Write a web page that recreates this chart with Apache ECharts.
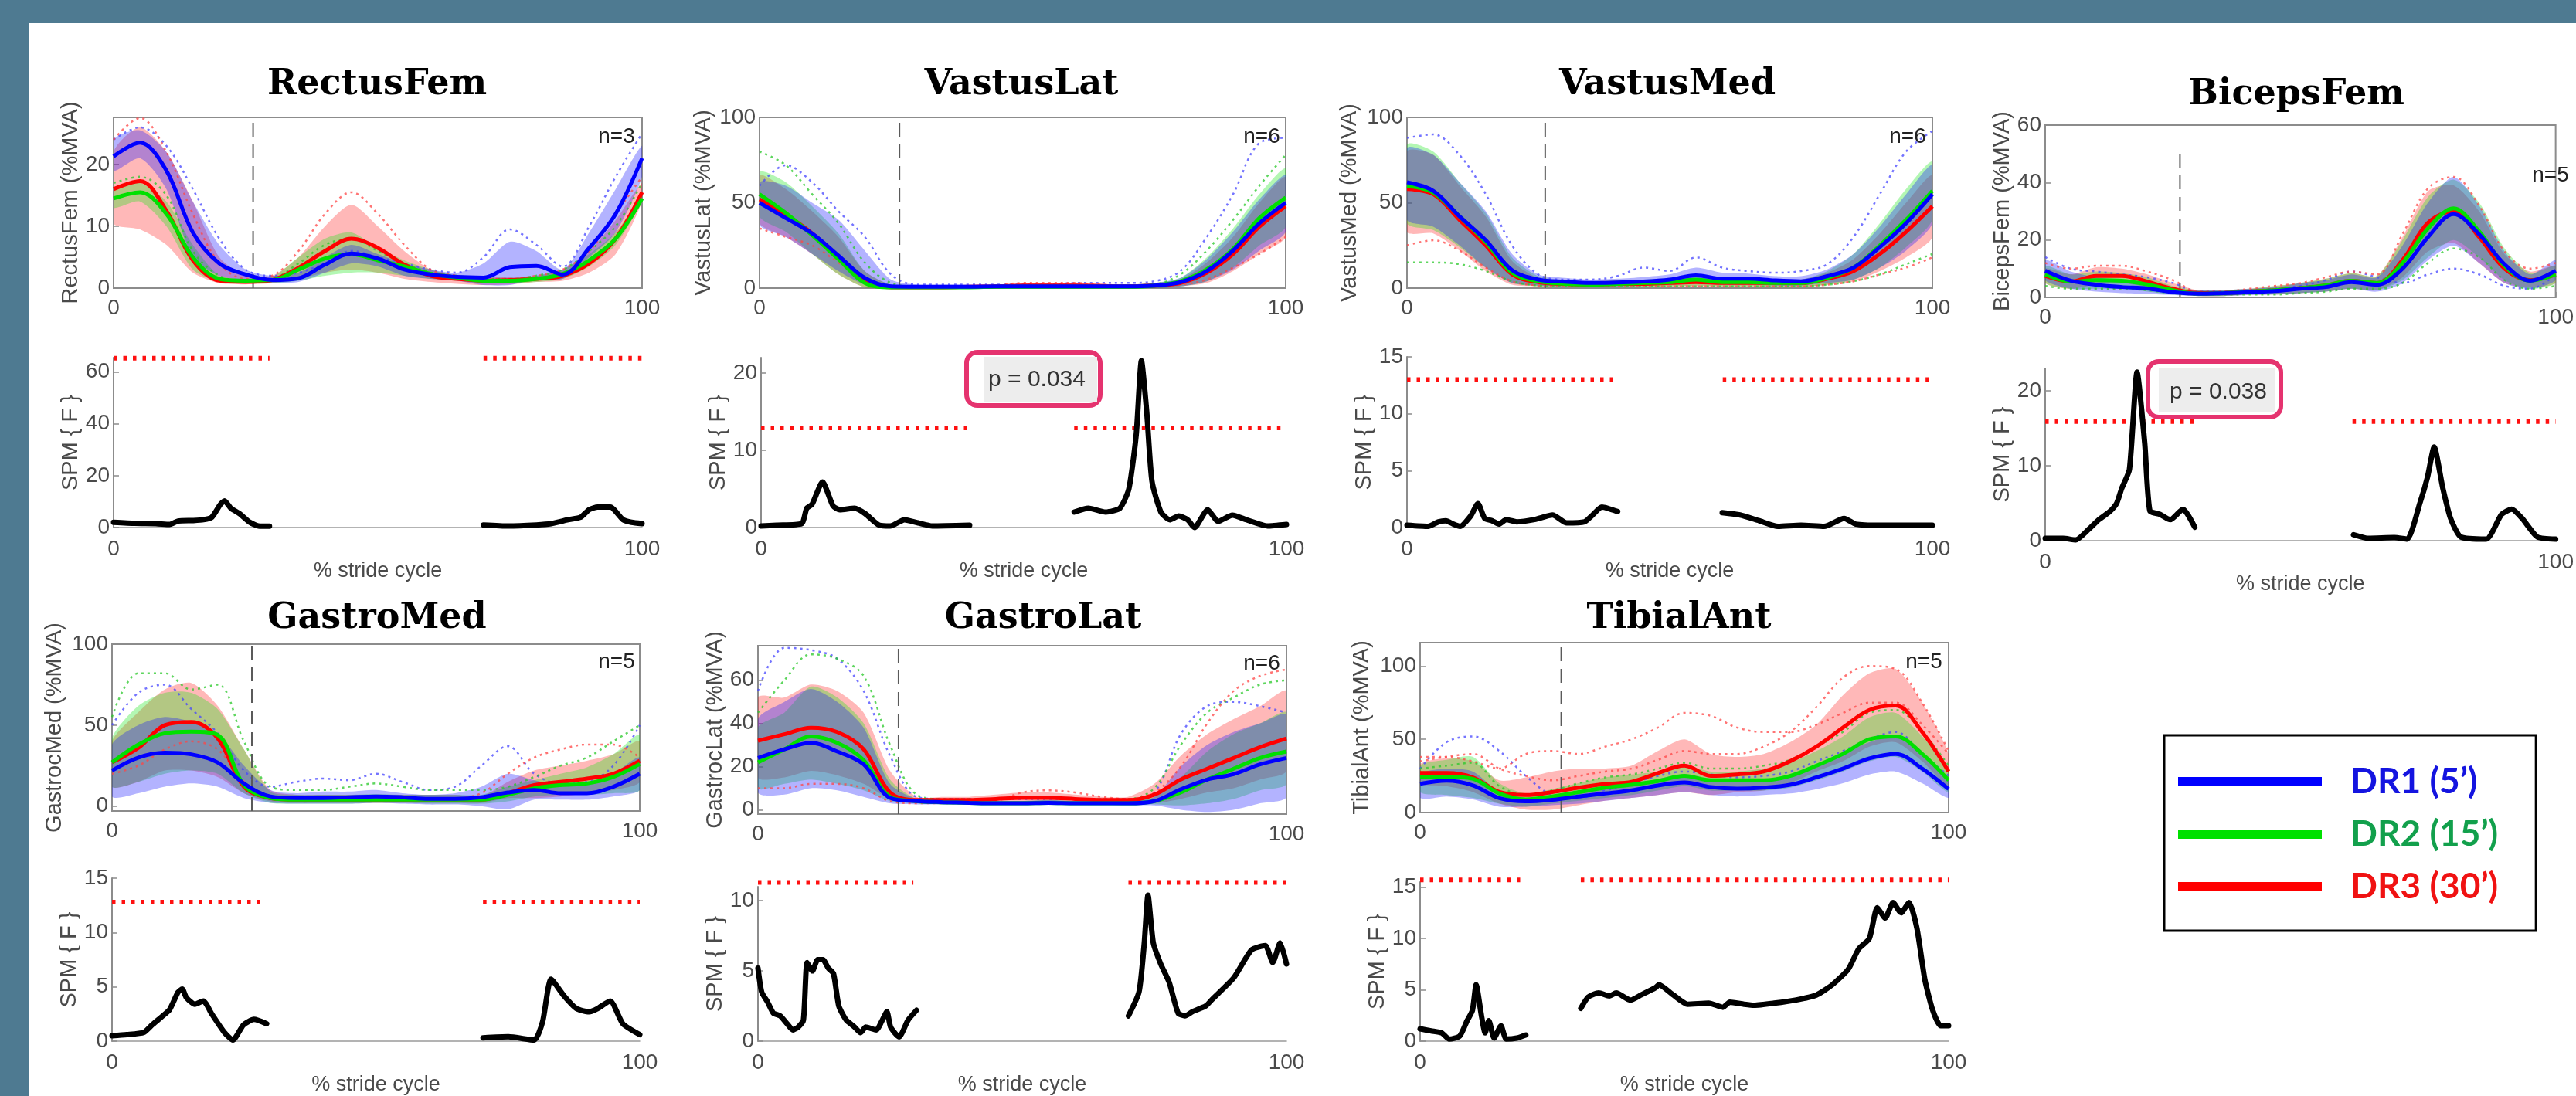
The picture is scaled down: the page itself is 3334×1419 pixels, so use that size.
<!DOCTYPE html>
<html><head><meta charset="utf-8">
<script src="https://cdn.jsdelivr.net/npm/echarts@6/dist/echarts.min.js"></script>
<style>html,body{margin:0;padding:0;background:#fff;overflow:hidden}#c{width:3334px;height:1419px}</style>
</head><body><div id="c"></div>
<script>
// ---------------- DATA ----------------
const X = [0,5,10,15,20,25,30,35,40,45,50,55,60,65,70,75,80,85,90,95,100];
const MUSCLES = ['RectusFem','VastusLat','VastusMed','BicepsFem','GastroMed','GastroLat','TibialAnt'];
const Y_LABELS = ['RectusFem (%MVA)','VastusLat (%MVA)','VastusMed (%MVA)','BicepsFem (%MVA)','GastrocMed (%MVA)','GastrocLat (%MVA)','TibialAnt (%MVA)'];
const N_LABELS = ['n=3','n=6','n=6','n=5','n=5','n=6','n=5'];
const EMG_RANGE = [[0,27.6],[0,100],[0,100],[0,60],[-3,100],[-2,76],[0,116]];
const EMG_TICKS = [[0,10,20],[0,50,100],[0,50,100],[0,20,40,60],[0,50,100],[0,20,40,60],[0,50,100]];
const TOE_OFF = [26.4,26.6,26.3,26.4,26.5,26.6,26.7];
const TOE_TOP = [27.6,100,100,50,100,76,116];
const SPM_MAX = [65.5,22,15,23,15,11,15.5];
const SPM_TICKS = [[0,20,40,60],[0,10,20],[0,5,10,15],[0,10,20],[0,5,10,15],[0,5,10],[0,5,10,15]];
const THRESH = [65.3,12.9,13.0,15.9,12.8,11.3,15.7];
const THRESH_GAP = [[29.5,70],[39.7,59.6],[40.1,60.1],[29.3,60.2],[29.3,70.3],[29.4,70.1],[20,30.4]];
const LEGEND_NAMES = ['DR1 (5’)','DR2 (15’)','DR3 (30’)'];
const P_TEXTS = ['p = 0.034','p = 0.038'];

// RectusFem: means, SD bands, individual traces
const RF_blue  = [21.3,23.5,19,9,4,2.2,1.3,1.6,3.8,5.6,4.8,3,2.2,1.8,1.7,3.4,3.6,2.2,6.5,12,21];
const RF_green = [14.5,15.5,12,5,1.5,1.2,1.3,3,4.8,5.5,4.5,3.5,2.3,1.7,1.2,1.2,1.5,2.3,4.5,8,14.5];
const RF_red   = [16,17.3,12.5,4.5,1.2,1,1.3,3.3,6,8,6.5,3.8,2,1.5,1.2,1.3,1.5,2,4,8,15.5];
const RF_blue_lo  = [19,21,16,5,2,1.3,0.8,1,2.5,4,3.5,2,1.5,1.2,0.5,0.5,1.5,1.5,5,9,18];
const RF_blue_hi  = [24,25.5,22,14,7,3,2,2.5,5,7,5.5,4,3,2.5,4,7.5,6,3,9,16,23];
const RF_green_lo = [13,14,10,3,1,0.8,0.8,1.2,2,2.5,2.5,2,1.5,1.2,0.8,0.8,1,1.5,3.5,7,14];
const RF_green_hi = [16,17,14,7,2,1.5,1.8,5,8,9,6.5,4.5,3,2,1.5,1.5,2,3,5.5,9,15];
const RF_red_lo   = [10.5,9.5,7,2.5,0.8,0.6,0.8,1.5,2.5,3,2.5,1.5,1,0.7,0.5,0.6,1,1.2,2.5,5.5,14];
const RF_red_hi   = [22,26,22,14,5,2,2,5,10,13.5,10,6,3,2,1.8,1.8,2,3,6,11,17];
const RF_dot_blue = [24,26,23,16,8,3,2,2.5,4,6,5,4,3,2.5,5,9.5,7,3.5,10,18,25];
const RF_dot_green= [17,18,15,6,2,1.2,1.5,4,7,8,6,4,2.5,2,1.5,1.5,2,3,6,10,17];
const RF_dot_red  = [24,27.5,22,12,4,1.5,2,6,12,15.5,12,7,3,2,1.5,1.5,2,3,6,12,18];
// VastusLat
const VL_blue  = [50,41,32,19,6,1,0.8,0.8,0.8,1,1,1,1,1,1,1.5,3.5,10,22,38,50];
const VL_green = [55,44,31,17,3,0.5,0.5,0.5,0.5,0.8,0.8,0.8,0.8,0.8,0.8,1.5,4,11,23,41,53];
const VL_red   = [52,43,32,18,4,0.5,0.5,0.5,0.8,1,1.5,1.5,1.5,1.2,1,1.5,3,9,20,36,48];
const VL_blue_lo  = [37,30,20,10,2,0,0,0,0,0,0,0,0,0,0,0,1,4,11,22,33];
const VL_blue_hi  = [62,60,50,40,22,5,2,2,2,2,2.5,2.5,2.5,2,2,3,6,17,33,52,66];
const VL_green_lo = [42,33,20,8,0.5,0,0,0,0,0,0,0,0,0,0,0,1,4,12,25,36];
const VL_green_hi = [68,62,48,32,10,2,1.5,1.5,1.5,1.5,2,2,2,2,2,3,6,18,35,55,70];
const VL_red_lo   = [38,30,20,8,0.5,0,0,0,0,0,0,0,0,0,0,0,1,3,10,20,30];
const VL_red_hi   = [66,58,45,30,10,2,1.5,1.5,1.5,2,2.5,3,3,2.5,2,3,5,15,30,50,65];
const VL_dot_blue = [60,72,62,45,30,8,2,2,2,2,2,2,3,3,3,4,10,30,55,85,88];
const VL_dot_green= [80,72,55,38,15,3,1,1,1,1,1,1,1,1,1,2,8,22,40,60,78];
const VL_dot_red  = [35,30,25,15,5,1,1,1,1,1.5,3,3,3,2,1.5,1.5,2,5,12,20,30];
// VastusMed
const VM_blue  = [62,57,42,28,10.5,5,3.7,3,3.3,3.8,5,7.5,5.5,5.5,4.5,4,7,12,24,38,55];
const VM_green = [60,56,42,27,9,4,2.5,2,2.5,3,3.5,5,3.5,3.5,3,3,6,12,25,40,57];
const VM_red   = [58,55,40,25,8,3.5,2.5,2,2.5,2.5,3,3.5,3,3,3,3,5.5,10,20,33,48];
const VM_blue_lo  = [40,36,25,12,3,1.5,1,1,1,1.5,2,3,2,2,1.5,1.5,3,5,12,22,38];
const VM_blue_hi  = [82,78,62,45,20,8,6,5,5.5,6.5,8,12,9,8.5,7,7,11,20,36,55,72];
const VM_green_lo = [38,34,24,12,3,1,0.5,0.5,0.5,0.5,1,1.5,1,1,0.5,0.5,2,5,12,24,40];
const VM_green_hi = [84,80,62,44,18,7,4.5,4,4.5,5,6,8,6,6,5,5,10,20,38,58,74];
const VM_red_lo   = [33,32,22,10,2,1,0.5,0.5,0.5,0.5,1,1,1,1,0.5,0.5,2,4,10,18,30];
const VM_red_hi   = [80,78,60,42,16,6,4.5,4,4.5,4.5,5,6,5,5,5,5,9,17,32,50,66];
const VM_dot_blue = [88,90,78,55,25,8,5,5,7,12,10,18,12,10,9,10,14,30,55,80,92];
const VM_dot_green= [15,15,14,10,4,1.5,1,1,1,1,1,1,1,1,1,1,2,4,8,14,20];
const VM_dot_red  = [25,28,22,12,4,1.5,1,1,1,1,1,1,1,1,1,1,2,4,8,12,18];
// BicepsFem
const BF_blue  = [9.3,5.8,4.4,3.6,3.1,1.8,1.3,1.5,1.8,2.2,3,3.6,5.3,4.4,10,21,29,22,11.5,5.8,9.3];
const BF_green = [8,5.5,6,5.8,4.5,2.5,1.3,1.5,2,2.5,3.2,4.2,5.8,5,12,24,31,23,11,5.8,8];
const BF_red   = [7.5,5.5,7.5,7.5,5.5,3,1.5,1.5,2,2.5,3.2,4.2,5.8,5,13,26,30,21,10,6,8];
const BF_blue_lo  = [6,3,2,1.5,1.2,0.8,0.5,0.5,0.8,1,1.5,2,3,2,5,13,18,12,5,3,6];
const BF_blue_hi  = [13,9,7,6,5,3,2.5,2.5,3,3.5,5,6,8,7,18,33,42,32,16,8,13];
const BF_green_lo = [5,3,3,3,2,1,0.5,0.5,1,1,1.5,2,3,2.5,6,14,20,14,6,3,5];
const BF_green_hi = [11,8,9,8.5,7,4,2.5,2.5,3,4,5,6.5,8.5,7.5,20,35,41,33,17,8.5,11];
const BF_red_lo   = [5,3,4.5,5,3.5,1.5,0.5,0.5,1,1,1.5,2,3,2.5,7,16,19,12,5,3.5,5];
const BF_red_hi   = [10,8,10.5,10,8,5,2.5,2.5,3,4,5,6.5,8.5,7.5,21,37,39,30,15,9,11];
const BF_dot_blue = [14,10,9,8,7,5,2,2,2.5,3,4,6,9,7,5,8,10,8,4,3,8];
const BF_dot_green= [4,3,3,3,2.5,1.5,1,1,1,1,1.5,2,3,3,5,12,17,14,6,3,4];
const BF_dot_red  = [12,10,11,11,9,6,2,2,3,4,5,7,9,8,22,38,42,32,16,10,12];
// GastroMed
const GM_blue  = [22,30,33,32,27,14,6,5,5,5.5,6,5.5,4.5,4.5,5.5,8.4,10,8,8,12,20];
const GM_green = [27,38,45,46,44,13,5,4,4,4,4,4,4,4,4,7,11,13,14,18,26];
const GM_red   = [27,36,50,52,42,12,5,4,4,4,4,4,4,4,4,8,13,15,17,20,28];
const GM_blue_lo  = [6,8,12,14,12,5,2,1.5,1.5,1.5,2,1.5,1,1,0,-2,4,4,4,6,10];
const GM_blue_hi  = [38,50,55,52,45,25,10,8,9,9,10,8,7,8,12,20,16,13,14,20,30];
const GM_green_lo = [12,15,20,22,20,8,2,1.5,1.5,1.5,2,2,1.5,1.5,1.5,3,6,7,7,8,10];
const GM_green_hi = [42,62,70,70,60,35,9,7,7,7,7.5,7,7,7,7,12,16,20,24,32,44];
const GM_red_lo   = [12,15,22,22,18,8,3,2,2,2,2,2,2,2,2,5,5,6,8,10,15];
const GM_red_hi   = [40,58,72,76,62,35,10,7,7,7,7,7,7,7,6,15,22,25,28,32,40];
const GM_dot_blue = [50,70,75,60,45,22,12,15,17,16,20,15,10,12,25,37,20,14,15,25,50];
const GM_dot_green= [55,82,82,72,75,40,12,10,10,12,14,12,10,10,10,12,18,25,30,40,50];
const GM_dot_red  = [20,25,35,40,35,15,5,5,5,5,5,5,5,5,8,20,30,35,38,38,30];
// GastroLat
const GL_blue  = [24,28,31,27,21,5.5,4,3.5,3.2,3,3,3.2,3,3,3,4,9.5,14,16.5,21,24];
const GL_green = [22,28,34,31,23,6,4,3.5,3.2,3,3,3.2,3,3,3,4,8,14,19,24,27];
const GL_red   = [32,35,38,36,28,8,4.5,4.5,4.5,5,5.5,5.5,5,4.5,4.5,7,14,19,24,29,33];
const GL_blue_lo  = [8,7,10,9,6,3,2.5,2.5,2.5,2.5,2.5,2.5,2.5,2.5,2,2,0,-1,0,3,6];
const GL_blue_hi  = [42,50,56,50,38,12,5,4.5,4,4,4,4.5,4,4,4,6,20,30,36,40,44];
const GL_green_lo = [10,12,14,12,9,4,3,2.5,2.5,2.5,2.5,2.5,2.5,2.5,2.5,2.5,2,3,5,9,12];
const GL_green_hi = [38,45,57,52,40,14,5,4.5,4,4,4,4.5,4,4,4,6,15,27,35,40,45];
const GL_red_lo   = [15,15,18,16,12,5,3,3,3,3,3.5,3.5,3,3,3,3,5,8,10,14,18];
const GL_red_hi   = [52,52,58,55,45,18,6,6,6,7,8,8,7,6,6,12,25,35,42,48,55];
const GL_dot_blue = [55,75,74,70,55,25,6,5,5,5,5,5,5,5,5,8,35,48,50,48,45];
const GL_dot_green= [45,60,72,70,62,30,7,5,5,5,6,6,5,5,5,10,30,45,52,58,60];
const GL_dot_red  = [10,10,12,12,10,4,3,3,3,4,8,9,8,6,5,8,20,40,55,62,65];
// TibialAnt
const TA_blue  = [19.6,21.7,18.5,9.8,7.6,8.7,10.9,13,15.2,18.5,20.6,17.4,16.3,17,19,24,30,37,40,30,16];
const TA_green = [24,24.5,23,13,9,11,14,17,19,21.5,25,22,22,22,25,32,40,50,52,40,22];
const TA_red   = [27,27,24,14,12,14,17,19.5,21,27,32,25,26,28,35,45,58,70,73,55,28];
const TA_blue_lo  = [10,11,9,4,4,5,6,8,10,12,14,12,11,12,13,16,20,26,28,20,10];
const TA_blue_hi  = [26,30,28,14,10,11,14,17,19,23,26,22,21,22,25,32,40,48,52,40,22];
const TA_green_lo = [14,12,10,6,4,6,8,10,12,15,18,15,15,15,17,22,28,35,38,28,14];
const TA_green_hi = [32,36,38,20,13,16,20,24,26,28,32,28,28,30,34,42,52,65,68,52,30];
const TA_red_lo   = [20,18,14,6,2,2,5,8,10,12,14,12,14,15,20,28,35,45,48,35,18];
const TA_red_hi   = [33,37,35,22,24,28,30,30,32,42,50,40,38,40,48,60,80,95,98,75,40];
const TA_dot_blue = [30,48,52,42,25,12,10,15,20,25,28,26,24,25,28,35,42,50,55,40,25];
const TA_dot_green= [30,32,34,18,12,15,20,24,26,30,34,30,30,32,36,45,55,68,70,55,32];
const TA_dot_red  = [35,38,40,30,25,22,25,28,30,36,42,40,40,45,55,72,92,100,98,75,42];
const TA_dot_red2 = [38,38,35,30,40,42,40,45,50,58,68,66,58,55,55,60,68,75,75,60,40];

// SPM{F} curves (null = gap between the two tested regions)
const RF_spmX = [0,4,8,10.6,12.2,15,17,18.6,20.2,21,22.2,23.8,25.8,27.4,29.5,50,70,74.7,80,82.8,86,88.4,90,91.6,94,96.4,98,100];
const RF_spmY = [2,1.6,1.5,1.2,2.5,2.7,3,4,8.9,10.3,7.4,5.4,2,0.6,0.5,null,1,0.6,1,1.5,3,4,6.9,7.9,7.9,3,2,1.5];
const VL_spmX = [0,3,7.7,8.7,9.7,11.7,13.7,15,17.8,19.8,22.5,24.6,27.3,29.9,32.6,39.7,50,59.6,62.3,65.6,68.3,70,71.4,72.4,73.4,74.4,76.1,77.8,79.5,81.2,82.5,85,87,89.7,92.4,96.4,100];
const VL_spmY = [0.2,0.3,0.5,2.5,3,5.9,2.8,2.3,2.5,1.8,0.3,0.2,1,0.6,0.2,0.3,null,2,2.5,2,2.5,5,12,21.6,15,6,2,1,1.5,1,0,2.3,0.8,1.6,1,0.2,0.4];
const VM_spmX = [0,4,6,7.4,8.8,10.1,12.1,13.5,14.8,16.2,17.5,18.9,20.9,24.3,27.7,30.4,33.8,35.1,37.1,40.1,50,60,63.4,67,70.6,75,79.4,83.2,85.4,90,100];
const VM_spmY = [0.2,0.1,0.5,0.6,0.3,0.1,1,2.1,0.8,0.6,0.3,0.7,0.5,0.7,1.1,0.4,0.5,1,1.8,1.4,null,1.3,1.1,0.6,0.1,0.2,0.1,0.8,0.3,0.2,0.2];
const BF_spmX = [0,3.5,6,8.5,10.5,12.5,14,15,16.5,18,19.5,20.5,22.5,24.5,27,29.3,45,60.4,63.4,68.4,70.9,73.4,74.9,76.2,77.9,79.4,81.4,86.4,89.4,91.4,93.4,96.4,100];
const BF_spmY = [0.3,0.3,0.1,1.5,2.8,3.8,5,7,9.5,22.5,13,4,3.5,2.8,4.2,1.8,null,0.8,0.3,0.4,0.2,5,8.5,12.5,7,3,0.5,0.2,3.5,4.2,3,0.5,0.2];
const GM_spmX = [0,2.8,6,7.6,9.3,10.9,12.5,13.3,14.1,15.7,17.3,18.9,21.3,22.9,24.9,26.9,29.3,50,70.3,75.1,80,81.6,83.2,85.6,88,90.4,92,94.4,96.8,100];
const GM_spmY = [0.5,0.6,0.8,1.5,2.2,2.9,4.5,4.8,4.0,3.4,3.7,2.5,0.8,0.1,1.5,2,1.6,null,0.3,0.4,0.1,1.8,5.7,4.2,3.0,2.7,3.0,3.7,1.6,0.6];
const GL_spmX = [0,0.7,1.8,2.9,4.2,5.6,6.6,7.6,8.6,9.3,10.3,11.3,12.3,13.3,14.3,15.3,16.7,18.3,19.4,20.4,22.4,23.4,24.4,25.1,26.7,28.4,30,50,70.1,72.1,73.1,73.8,74.8,76.2,77.8,79.5,80.8,82.2,84.7,86,90,93.4,96,97.4,98.8,100];
const GL_spmY = [5.2,3.5,2.8,2.0,1.8,1.2,0.8,1.0,1.5,5.6,5.0,5.8,5.8,5.2,4.8,2.5,1.5,1.0,0.6,1.0,0.8,1.4,2.1,1.0,0.3,1.5,2.2,null,1.8,3.5,7,10.4,7,5.5,4.2,2.0,1.8,2.1,2.5,3,4.5,6.5,6.8,5.6,7,5.5];
const TA_spmX = [0,2.1,4.1,5.5,7.5,8.9,9.9,10.6,11.6,12.3,13,14,15.3,16.3,18.3,20,25,30.4,31.8,33.8,35.8,37.1,39.8,41.8,44.5,45.2,47.9,50.6,54.6,57.3,58.6,61.3,63.2,67,71,75,78,81,83,85,86.5,88,89.5,91,92.5,94,95.5,97,98.5,100];
const TA_spmY = [1.2,1.0,0.8,0.2,0.5,2,3,5.5,2.5,0.8,2,0.3,1.5,0.2,0.3,0.6,null,3.2,4.3,4.7,4.4,4.7,4.0,4.5,5.2,5.5,4.5,3.6,3.7,3.3,3.8,3.6,3.5,3.7,4,4.5,5.5,7,9,10,13,12,13.5,12.5,13.5,11,6,3,1.5,1.5];

// ---------------- TABLES BUILT FROM THE ARRAYS ----------------
// colour index: 0 = DR1 blue, 1 = DR2 green, 2 = DR3 red
const EMG_SETS = [
  {mean:[RF_blue,RF_green,RF_red], lo:[RF_blue_lo,RF_green_lo,RF_red_lo], hi:[RF_blue_hi,RF_green_hi,RF_red_hi], dot:[[RF_dot_blue,0],[RF_dot_green,1],[RF_dot_red,2]]},
  {mean:[VL_blue,VL_green,VL_red], lo:[VL_blue_lo,VL_green_lo,VL_red_lo], hi:[VL_blue_hi,VL_green_hi,VL_red_hi], dot:[[VL_dot_blue,0],[VL_dot_green,1],[VL_dot_red,2]]},
  {mean:[VM_blue,VM_green,VM_red], lo:[VM_blue_lo,VM_green_lo,VM_red_lo], hi:[VM_blue_hi,VM_green_hi,VM_red_hi], dot:[[VM_dot_blue,0],[VM_dot_green,1],[VM_dot_red,2]]},
  {mean:[BF_blue,BF_green,BF_red], lo:[BF_blue_lo,BF_green_lo,BF_red_lo], hi:[BF_blue_hi,BF_green_hi,BF_red_hi], dot:[[BF_dot_blue,0],[BF_dot_green,1],[BF_dot_red,2]]},
  {mean:[GM_blue,GM_green,GM_red], lo:[GM_blue_lo,GM_green_lo,GM_red_lo], hi:[GM_blue_hi,GM_green_hi,GM_red_hi], dot:[[GM_dot_blue,0],[GM_dot_green,1],[GM_dot_red,2]]},
  {mean:[GL_blue,GL_green,GL_red], lo:[GL_blue_lo,GL_green_lo,GL_red_lo], hi:[GL_blue_hi,GL_green_hi,GL_red_hi], dot:[[GL_dot_blue,0],[GL_dot_green,1],[GL_dot_red,2]]},
  {mean:[TA_blue,TA_green,TA_red], lo:[TA_blue_lo,TA_green_lo,TA_red_lo], hi:[TA_blue_hi,TA_green_hi,TA_red_hi], dot:[[TA_dot_blue,0],[TA_dot_green,1],[TA_dot_red,2],[TA_dot_red2,2]]}
];
const SPM_SETS = [[RF_spmX,RF_spmY],[VL_spmX,VL_spmY],[VM_spmX,VM_spmY],[BF_spmX,BF_spmY],[GM_spmX,GM_spmY],[GL_spmX,GL_spmY],[TA_spmX,TA_spmY]];

// ---------------- LAYOUT / STYLE ----------------
const EMG_GRIDS = [[147,152,684,221],[983,152,681,221],[1821,152,680,221],[2647,162,686,223],[145,834,683,216],[981,836,684,218],[1838,832,684,220]];
const SPM_GRIDS = [[147,463,684,220],[985,463,680,220],[1821,462,680,221],[2647,477,686,223],[145,1137,683,218],[981,1148,684,213],[1838,1142,684,219]];
const EMG_NAMEGAP = [37,58,60,31,60,40,61];
const SPM_NAMEGAP = [37,37,37,37,35,31,38];
const TITLE_POS = [[488,110],[1322,110],[2158,110],[2972,123],[488,801],[1350,801],[2173,801]];
const N_POS = [[798,177],[1633,177],[2469,177],[3301,227],[798,857],[1633,859],[2490,857]];
const FONT = '"Liberation Sans", Arial, sans-serif';
const AX = '#8c8c8c', TXT = '#4a4a4a';
const LINE_COL = ['#0000FF','#00E000','#FF0000'];
const BAND_COL = ['rgba(20,20,255,0.32)','rgba(20,230,20,0.32)','rgba(255,20,20,0.30)'];
const DOT_COL = ['rgba(70,70,255,0.75)','rgba(40,200,40,0.75)','rgba(255,70,70,0.75)'];
const LEG_TXT = ['#1414E0','#12A04C','#F01212'];

const pairs = (xs, ys) => xs.map((x, i) => [x, ys[i]]);

const grid = [], xAxis = [], yAxis = [], series = [];
const axisLbl = (vals, margin) => ({customValues: vals, fontSize: 28, fontFamily: FONT, color: TXT, margin: margin});
const axisTck = (vals) => ({show: true, inside: true, length: 7, customValues: vals, lineStyle: {color: AX, width: 1.5}});
const nameStyle = {fontSize: 29, fontFamily: FONT, color: TXT};

EMG_GRIDS.forEach((g, i) => {
  grid.push({left: g[0], top: g[1], width: g[2], height: g[3], show: true, borderColor: AX, borderWidth: 2, backgroundColor: 'transparent'});
  xAxis.push({gridIndex: i, type: 'value', min: 0, max: 100, axisLine: {show: true, onZero: false, lineStyle: {color: AX, width: 2}},
    axisTick: axisTck([0, 100]), axisLabel: axisLbl([0, 100], 12), splitLine: {show: false}});
  yAxis.push({gridIndex: i, type: 'value', min: EMG_RANGE[i][0], max: EMG_RANGE[i][1],
    name: Y_LABELS[i], nameLocation: 'middle', nameGap: EMG_NAMEGAP[i], nameTextStyle: nameStyle,
    axisLine: {show: true, lineStyle: {color: AX, width: 2}}, axisTick: axisTck(EMG_TICKS[i]), axisLabel: axisLbl(EMG_TICKS[i], 5), splitLine: {show: false}});
});
SPM_GRIDS.forEach((g, i) => {
  grid.push({left: g[0], top: g[1], width: g[2], height: g[3], show: false});
  const k = i + 7;
  xAxis.push({gridIndex: k, type: 'value', min: 0, max: 100, name: '% stride cycle', nameLocation: 'middle', nameGap: 43,
    nameTextStyle: {fontSize: 27, fontFamily: FONT, color: TXT},
    axisLine: {show: true, lineStyle: {color: '#9a9a9a', width: 1.5}}, axisTick: {show: false}, axisLabel: axisLbl([0, 100], 14), splitLine: {show: false}});
  yAxis.push({gridIndex: k, type: 'value', min: 0, max: SPM_MAX[i],
    name: 'SPM { F }', nameLocation: 'middle', nameGap: SPM_NAMEGAP[i], nameTextStyle: nameStyle,
    axisLine: {show: true, lineStyle: {color: AX, width: 2}}, axisTick: axisTck(SPM_TICKS[i]), axisLabel: axisLbl(SPM_TICKS[i], 5), splitLine: {show: false}});
});

// SD band as a closed polygon drawn through the axes' scales
const bandSeries = (p, lo, hi, color) => ({
  type: 'custom', name: 'band', xAxisIndex: p, yAxisIndex: p, silent: true, clip: true, z: 1,
  data: pairs(X, hi),
  renderItem: (params, api) => {
    if (params.dataIndex !== 0) return null;
    const pts = [];
    for (let i = 0; i < X.length; i++) pts.push(api.coord([X[i], hi[i]]));
    for (let i = X.length - 1; i >= 0; i--) pts.push(api.coord([X[i], lo[i]]));
    const cs = params.coordSys;
    return {type: 'polygon', shape: {points: pts, smooth: 0.25}, style: {fill: color},
      clipPath: {type: 'rect', shape: {x: cs.x, y: cs.y, width: cs.width, height: cs.height}}};
  }
});

// EMG panels: SD bands, individual dotted traces, toe-off line, mean curves
EMG_SETS.forEach((set, p) => {
  [2, 1, 0].forEach(c => series.push(bandSeries(p, set.lo[c], set.hi[c], BAND_COL[c])));
  set.dot.forEach(([arr, c]) => series.push({type: 'line', name: 'subject', xAxisIndex: p, yAxisIndex: p, smooth: 0.35, symbol: 'none', silent: true,
    lineStyle: {color: DOT_COL[c], width: 2.5, type: [3, 5]}, data: pairs(X, arr), z: 2}));
  series.push({type: 'line', name: 'toe-off', xAxisIndex: p, yAxisIndex: p, symbol: 'none', silent: true,
    lineStyle: {color: '#5a5a5a', width: 2, type: [18, 10]}, data: [[TOE_OFF[p], EMG_RANGE[p][0]], [TOE_OFF[p], TOE_TOP[p]]], z: 2});
  [2, 1, 0].forEach(c => {
    series.push({type: 'line', name: LEGEND_NAMES[c], xAxisIndex: p, yAxisIndex: p, smooth: 0.35, symbol: 'none', showSymbol: false, silent: true,
      itemStyle: {color: LINE_COL[c]}, lineStyle: {color: LINE_COL[c], width: 5}, data: pairs(X, set.mean[c]), z: 3});
  });
});

// SPM panels: critical threshold + SPM{F} trajectory
SPM_SETS.forEach((s, i) => {
  const k = i + 7, t = THRESH[i], gap = THRESH_GAP[i];
  series.push({type: 'line', name: 'threshold', xAxisIndex: k, yAxisIndex: k, symbol: 'none', silent: true, clip: false, connectNulls: false,
    lineStyle: {color: '#FF1010', width: 6, type: [4.5, 8], cap: 'butt'},
    data: [[0, t], [gap[0], t], [(gap[0] + gap[1]) / 2, null], [gap[1], t], [100, t]], z: 2});
  series.push({type: 'line', name: 'SPM', xAxisIndex: k, yAxisIndex: k, symbol: 'none', silent: true, clip: false, connectNulls: false, smooth: 0.2,
    lineStyle: {color: '#000', width: 7, cap: 'round', join: 'round'}, data: pairs(s[0], s[1]), z: 3});
});

// ---------------- GRAPHIC TEXT / FRAMES ----------------
const graphic = [];
graphic.push({type: 'rect', shape: {x: 0, y: 0, width: 3334, height: 30}, style: {fill: '#4E7A91'}, z: 200, silent: true});
graphic.push({type: 'rect', shape: {x: 0, y: 0, width: 38, height: 1419}, style: {fill: '#4E7A91'}, z: 200, silent: true});
MUSCLES.forEach((m, i) => {
  graphic.push({type: 'text', x: TITLE_POS[i][0], y: TITLE_POS[i][1], z: 50,
    style: {text: m, font: 'bold 46px "DejaVu Serif", serif', fill: '#000', textAlign: 'center', textVerticalAlign: 'middle'}});
  graphic.push({type: 'text', x: N_POS[i][0], y: N_POS[i][1], z: 50,
    style: {text: N_LABELS[i], font: '28px ' + FONT, fill: '#222', textAlign: 'center', textVerticalAlign: 'middle'}});
});
const pBox = (x, y, w, h, gx, gy, gw, gh, txt, tx, ty) => {
  graphic.push({type: 'rect', z: 60, shape: {x: x, y: y, width: w, height: h, r: 14}, style: {fill: '#fff', stroke: '#E5336F', lineWidth: 6}});
  graphic.push({type: 'rect', z: 61, shape: {x: gx, y: gy, width: gw, height: gh}, style: {fill: '#EDEDED'}});
  graphic.push({type: 'text', z: 62, x: tx, y: ty, style: {text: txt, font: '30px ' + FONT, fill: '#333', textAlign: 'center', textVerticalAlign: 'middle'}});
};
pBox(1251, 456, 173, 69, 1274, 462, 146, 58, P_TEXTS[0], 1342, 492);
pBox(2780, 468, 172, 72, 2794, 477, 151, 57, P_TEXTS[1], 2871, 508);

const option = {
  backgroundColor: '#ffffff',
  animation: false,
  grid, xAxis, yAxis, series,
  legend: {
    data: LEGEND_NAMES.map((n, i) => ({name: n, textStyle: {color: LEG_TXT[i]}})),
    orient: 'vertical', left: 2801, top: 952, padding: [36, 49, 33, 18],
    itemWidth: 186, itemHeight: 12, itemGap: 20, icon: 'rect', selectedMode: false,
    borderColor: '#000', borderWidth: 3, backgroundColor: '#fff',
    textStyle: {fontFamily: 'Lato, "Open Sans", sans-serif', fontWeight: 'bold', fontSize: 46, lineHeight: 48, padding: [0, 0, 0, 32]}
  },
  graphic: {elements: graphic}
};
const chart = echarts.init(document.getElementById('c'), null, {width: 3334, height: 1419});
chart.setOption(option);
</script></body></html>
